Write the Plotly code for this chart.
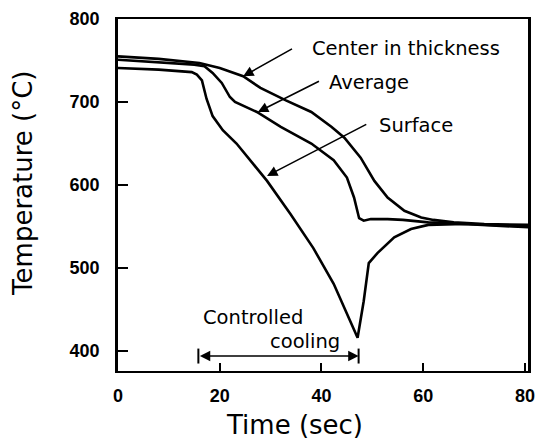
import plotly.graph_objects as go

# Temperature histories during controlled cooling (time in s, temperature in °C)
t_center = [0, 8, 16, 20, 24.6, 28, 33, 38, 42, 44.5, 47.7, 50.4, 53, 56.3, 59.6, 62, 66, 72, 81]
temp_center = [755, 752, 747, 741, 731, 717, 702, 688, 670, 657, 633, 605, 585, 569, 561, 558, 555, 553, 552]

t_average = [0, 8, 15, 17, 18.6, 20.4, 22, 23, 25.3, 27.3, 32, 38, 42.4, 45, 46.4, 47.4, 48.3, 49.7, 53, 56, 61, 70, 81]
temp_average = [751, 748, 745, 743, 735, 723, 706, 700, 694, 688, 670, 650, 630, 609, 585, 560, 557, 559, 559, 558, 555, 553, 550]

t_surface = [0, 8, 14.5, 15.5, 16.5, 17.4, 18.6, 20.6, 23.3, 26, 29.3, 33.9, 38.4, 42.4, 45, 47.1, 48.3, 49.3, 51, 54.3, 57.6, 61, 68, 81]
temp_surface = [741, 739, 736, 733, 726, 704, 683, 666, 650, 630, 605, 565, 524, 481, 445, 416, 460, 506, 518, 537, 547, 552, 553, 549]

# Curve labels: text position, arrow tail, arrow head (data units)
label_names = ["Center in thickness", "Average", "Surface"]
label_x = [56.7, 49.4, 58.5]
label_y = [765, 724, 672]
arrow_tail_x = [34.5, 39.8, 49.1]
arrow_tail_y = [765, 726, 674]
arrow_head_x = [24.6, 27.5, 29.3]
arrow_head_y = [731, 688, 611]

# Controlled cooling interval
cooling_span = [15.8, 47.3]
cooling_level = 394
cooling_text = ["Controlled", "cooling"]
cooling_text_x = [26.6, 36.7]
cooling_text_y = [440, 412]

x_ticks = [0, 20, 40, 60, 80]
y_ticks = [400, 500, 600, 700, 800]

label_font = dict(family="DejaVu Sans, Liberation Sans, sans-serif", size=19.5, color="black")
tick_font = dict(family="Liberation Sans, Arial, sans-serif",
                 size=18, color="black", weight="bold")
title_font = dict(family="DejaVu Sans, Liberation Sans, sans-serif", size=26, color="black")

fig = go.Figure()
for tx, ty in [(t_center, temp_center), (t_average, temp_average), (t_surface, temp_surface)]:
    fig.add_trace(go.Scatter(x=tx, y=ty, mode="lines",
                             line=dict(color="black", width=2.6),
                             hoverinfo="skip"))

annotations = []
for name, lx, ly, tx, ty, hx, hy in zip(label_names, label_x, label_y,
                                        arrow_tail_x, arrow_tail_y,
                                        arrow_head_x, arrow_head_y):
    annotations.append(dict(x=lx, y=ly, xref="x", yref="y", text=name,
                            showarrow=False, font=label_font))
    annotations.append(dict(x=hx, y=hy, ax=tx, ay=ty, xref="x", yref="y",
                            axref="x", ayref="y", text="", showarrow=True,
                            arrowhead=2, arrowsize=1.3, arrowwidth=1.6,
                            arrowcolor="black"))

for txt, cx, cy in zip(cooling_text, cooling_text_x, cooling_text_y):
    annotations.append(dict(x=cx, y=cy, xref="x", yref="y", text=txt,
                            showarrow=False, font=label_font))

annotations.append(dict(x=cooling_span[1], y=cooling_level,
                        ax=cooling_span[0], ay=cooling_level,
                        xref="x", yref="y", axref="x", ayref="y", text="",
                        showarrow=True, arrowhead=2, startarrowhead=2,
                        arrowside="end+start", arrowsize=1.3,
                        startarrowsize=1.3, arrowwidth=1.6,
                        arrowcolor="black"))

# Axis titles
annotations.append(dict(x=0.43, y=-0.153, xref="paper", yref="paper",
                        text="Time (sec)", showarrow=False, font=title_font,
                        xanchor="center", yanchor="middle"))
annotations.append(dict(x=-0.232, y=0.534, xref="paper", yref="paper",
                        text="Temperature (°C)", showarrow=False, font=title_font,
                        textangle=-90, xanchor="center", yanchor="middle"))

bar_half = 9
shapes = [dict(type="line", xref="x", yref="y", x0=cx, x1=cx,
               y0=cooling_level - bar_half, y1=cooling_level + bar_half,
               line=dict(color="black", width=2))
          for cx in cooling_span]

fig.update_layout(
    width=539, height=443,
    margin=dict(l=118, r=11, t=19, b=72, autoexpand=False),
    plot_bgcolor="white", paper_bgcolor="white",
    showlegend=False,
    annotations=annotations,
    shapes=shapes,
    xaxis=dict(range=[0, 80.6], tickvals=x_ticks, ticktext=[str(v) for v in x_ticks],
               ticks="inside", ticklen=8, tickwidth=2, tickcolor="black",
               showline=True, linewidth=2, linecolor="black", mirror=True,
               showgrid=False, zeroline=False, tickfont=tick_font,
               ticklabelstandoff=7, automargin=False),
    yaxis=dict(range=[376, 800], tickvals=y_ticks, ticktext=[str(v) for v in y_ticks],
               ticks="inside", ticklen=10, tickwidth=2, tickcolor="black",
               showline=True, linewidth=2.5, linecolor="black", mirror=True,
               showgrid=False, zeroline=False, tickfont=tick_font,
               ticklabelstandoff=12, automargin=False),
)

fig.write_html("out.html")
